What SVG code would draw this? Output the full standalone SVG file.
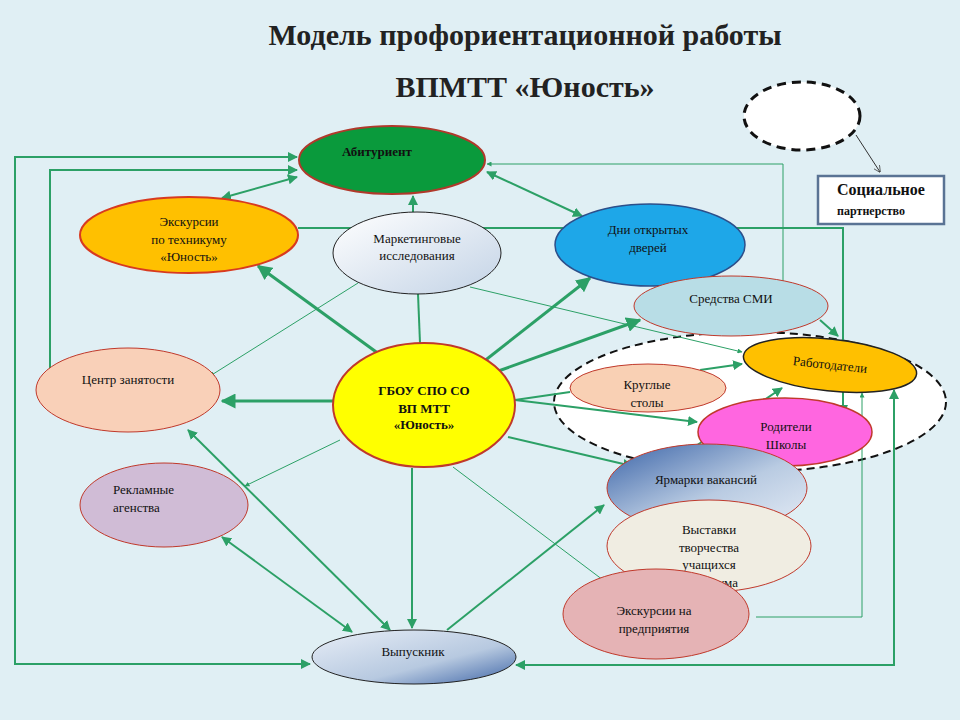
<svg xmlns="http://www.w3.org/2000/svg" width="960" height="720" viewBox="0 0 960 720">
<style>
.t{font-family:"Liberation Serif","DejaVu Serif",serif;font-size:13px;fill:#111;text-anchor:middle}
.c{fill:none;stroke:#2ca066;stroke-width:2}
.th{stroke-width:3}
.tn{stroke-width:1}
</style>
<defs>
<marker id="a" viewBox="0 0 10 10" refX="9" refY="5" markerWidth="5" markerHeight="5" orient="auto-start-reverse"><path d="M0,0L10,5L0,10z" fill="#2ca066"/></marker>
<marker id="k" viewBox="0 0 10 10" refX="9" refY="5" markerWidth="7" markerHeight="7" orient="auto"><path d="M0,0L10,5L0,10" fill="none" stroke="#333"/></marker>
<linearGradient id="gb" x1="0" y1="0" x2="1" y2="1"><stop offset="0" stop-color="#e8eef7"/><stop offset="0.6" stop-color="#b7c9e0"/><stop offset="1" stop-color="#3d64a6"/></linearGradient>
<linearGradient id="gm" x1="0" y1="0" x2="1" y2="1"><stop offset="0" stop-color="#ffffff"/><stop offset="1" stop-color="#c3d3e6"/></linearGradient>
<linearGradient id="gy" x1="0" y1="0" x2="1" y2="1"><stop offset="0" stop-color="#3b64a8"/><stop offset="0.55" stop-color="#b9cbe2"/><stop offset="1" stop-color="#e6edf6"/></linearGradient>
</defs>
<rect width="960" height="720" fill="#e0eff4"/>
<text x="525" y="45" style="font-family:'Liberation Serif',serif;font-size:30px;font-weight:bold;fill:#222;text-anchor:middle">Модель профориентационной  работы</text>
<text x="525" y="97" style="font-family:'Liberation Serif',serif;font-size:30px;font-weight:bold;fill:#222;text-anchor:middle">ВПМТТ «Юность»</text>
<g id="connectors">
<ellipse cx="750" cy="402" rx="196" ry="70" fill="#fff" stroke="#111" stroke-width="2" stroke-dasharray="8,5"/>
<polyline class="c" points="297,157 15,157 15,664 310,664" marker-start="url(#a)" marker-end="url(#a)"/>
<polyline class="c" points="50,375 50,170 297,170" marker-end="url(#a)"/>
<line class="c" x1="222" y1="198" x2="297" y2="177" marker-start="url(#a)" marker-end="url(#a)"/>
<line class="c" x1="413" y1="212" x2="413" y2="196" marker-end="url(#a)"/>
<polyline class="c" points="298,228 843,228 843,414" marker-end="url(#a)"/>
<line class="c" x1="487" y1="172" x2="582" y2="216" marker-start="url(#a)" marker-end="url(#a)"/>
<polyline class="c tn" points="783,282 783,164 487,164" marker-end="url(#a)"/>
<line class="c th" x1="390" y1="362" x2="258" y2="266" marker-end="url(#a)"/>
<line class="c" x1="420" y1="343" x2="418" y2="294"/>
<line class="c tn" x1="358" y1="283" x2="210" y2="376" marker-end="url(#a)"/>
<line class="c tn" x1="470" y1="287" x2="742" y2="352" marker-end="url(#a)"/>
<line class="c th" x1="333" y1="401" x2="222" y2="401" marker-end="url(#a)"/>
<line class="c th" x1="478" y1="366" x2="590" y2="278" marker-end="url(#a)"/>
<line class="c th" x1="490" y1="374" x2="640" y2="320" marker-end="url(#a)"/>
<line class="c" x1="515" y1="400" x2="570" y2="392"/>
<line class="c" x1="515" y1="400" x2="697" y2="422" marker-end="url(#a)"/>
<line class="c" x1="700" y1="370" x2="742" y2="364" marker-end="url(#a)"/>
<line class="c" x1="820" y1="320" x2="838" y2="336" marker-end="url(#a)"/>
<line class="c" x1="675" y1="460" x2="782" y2="388" marker-end="url(#a)"/>
<polyline class="c tn" points="756,617 862,617 862,393" marker-end="url(#a)"/>
<polyline class="c" points="516,665 894,665 894,390" marker-start="url(#a)" marker-end="url(#a)"/>
<line class="c" x1="508" y1="437" x2="632" y2="466" marker-end="url(#a)"/>
<line class="c tn" x1="340" y1="440" x2="245" y2="486" marker-end="url(#a)"/>
<line class="c" x1="412" y1="468" x2="412" y2="628" marker-end="url(#a)"/>
<line class="c tn" x1="453" y1="467" x2="607" y2="583" marker-end="url(#a)"/>
<line class="c" x1="447" y1="630" x2="604" y2="505" marker-end="url(#a)"/>
<line class="c" x1="390" y1="630" x2="188" y2="430" marker-start="url(#a)" marker-end="url(#a)"/>
<line class="c" x1="352" y1="632" x2="222" y2="537" marker-start="url(#a)" marker-end="url(#a)"/>
<line x1="856" y1="135" x2="880" y2="172" stroke="#333" stroke-width="1" marker-end="url(#k)"/>
</g>
<g id="abit"><ellipse cx="392" cy="160" rx="93" ry="34" fill="#0a9a3c" stroke="#b0392b" stroke-width="2"/><text class="t" x="377" y="156" font-weight="bold" font-size="12">Абитуриент</text></g>
<g id="exc"><ellipse cx="189" cy="235" rx="109" ry="38" fill="#ffc000" stroke="#d83a1f" stroke-width="2"/><text class="t" x="189" y="226">Экскурсии</text><text class="t" x="189" y="244">по  техникуму</text><text class="t" x="189" y="261">«Юность»</text></g>
<g id="mark"><ellipse cx="417" cy="253" rx="84" ry="41" fill="url(#gm)" stroke="#222" stroke-width="1"/><text class="t" x="417" y="243">Маркетинговые</text><text class="t" x="417" y="260">исследования</text></g>
<g id="dni"><ellipse cx="650" cy="245" rx="95" ry="41" fill="#1ea7e8" stroke="#2c4f8a" stroke-width="1.5"/><text class="t" x="648" y="234">Дни открытых</text><text class="t" x="648" y="252">дверей</text></g>
<g id="smi"><ellipse cx="731" cy="306" rx="97" ry="30" fill="#b8dde6" stroke="#c0392b" stroke-width="1"/><text class="t" x="731" y="303">Средства СМИ</text></g>
<g id="rab"><ellipse cx="830" cy="365" rx="87" ry="26" transform="rotate(6 830 365)" fill="#ffc000" stroke="#222" stroke-width="1.5"/><text class="t" x="830" y="369" transform="rotate(6 830 365)">Работодатели</text></g>
<g id="krug"><ellipse cx="648" cy="388" rx="78" ry="24" fill="#f9d0b4" stroke="#c0392b" stroke-width="1"/><text class="t" x="647" y="389">Круглые</text><text class="t" x="647" y="407">столы</text></g>
<g id="rod"><ellipse cx="785" cy="432" rx="87" ry="34" fill="#ff66e0" stroke="#c0392b" stroke-width="1.5"/><text class="t" x="786" y="431">Родители</text><text class="t" x="786" y="449">Школы</text></g>
<g id="czn"><ellipse cx="128" cy="390" rx="92" ry="42" fill="#f9d0b8" stroke="#c0392b" stroke-width="1"/><text class="t" x="128" y="384">Центр занятости</text></g>
<g id="gbou"><ellipse cx="424" cy="405" rx="91" ry="62" fill="#ffff00" stroke="#c0392b" stroke-width="2"/><text class="t" x="424" y="395" font-weight="bold">ГБОУ СПО СО</text><text class="t" x="424" y="413" font-weight="bold">ВП МТТ</text><text class="t" x="424" y="429" font-weight="bold">«Юность»</text></g>
<g id="rekl"><ellipse cx="164" cy="505" rx="84" ry="42" fill="#d0bcd6" stroke="#c0392b" stroke-width="1"/><text class="t" x="113" y="494" text-anchor="start" style="text-anchor:start">Рекламные</text><text class="t" x="113" y="512" style="text-anchor:start">агенства</text></g>
<g id="yarm"><ellipse cx="707" cy="488" rx="100" ry="44" fill="url(#gy)" stroke="#c0392b" stroke-width="1"/><text class="t" x="706" y="484">Ярмарки вакансий</text></g>
<g id="vyst"><ellipse cx="709" cy="546" rx="102" ry="46" fill="#f0ede2" stroke="#c0392b" stroke-width="1"/><text class="t" x="709" y="534">Выставки</text><text class="t" x="709" y="552">творчества</text><text class="t" x="709" y="569">учащихся</text><text class="t" x="709" y="587">техникума</text></g>
<g id="expr"><ellipse cx="656" cy="614" rx="93" ry="45" fill="#e5b3b5" stroke="#c0392b" stroke-width="1"/><text class="t" x="654" y="615">Экскурсии на</text><text class="t" x="654" y="633">предприятия</text></g>
<g id="vyp"><ellipse cx="414" cy="657" rx="102" ry="27" fill="url(#gb)" stroke="#222" stroke-width="1"/><text class="t" x="413" y="656">Выпускник</text></g>
<g id="soc"><ellipse cx="802" cy="116" rx="58" ry="34" fill="#fff" stroke="#111" stroke-width="3" stroke-dasharray="9,6"/><rect x="818" y="176" width="126" height="48" fill="#fff" stroke="#5a7394" stroke-width="2.5"/><text x="881" y="195" style="font-family:'Liberation Serif',serif;font-size:16px;font-weight:bold;text-anchor:middle;fill:#111">Социальное</text><text x="871" y="215" style="font-family:'Liberation Serif',serif;font-size:12px;font-weight:bold;text-anchor:middle;fill:#111">партнерство</text></g>
</svg>
